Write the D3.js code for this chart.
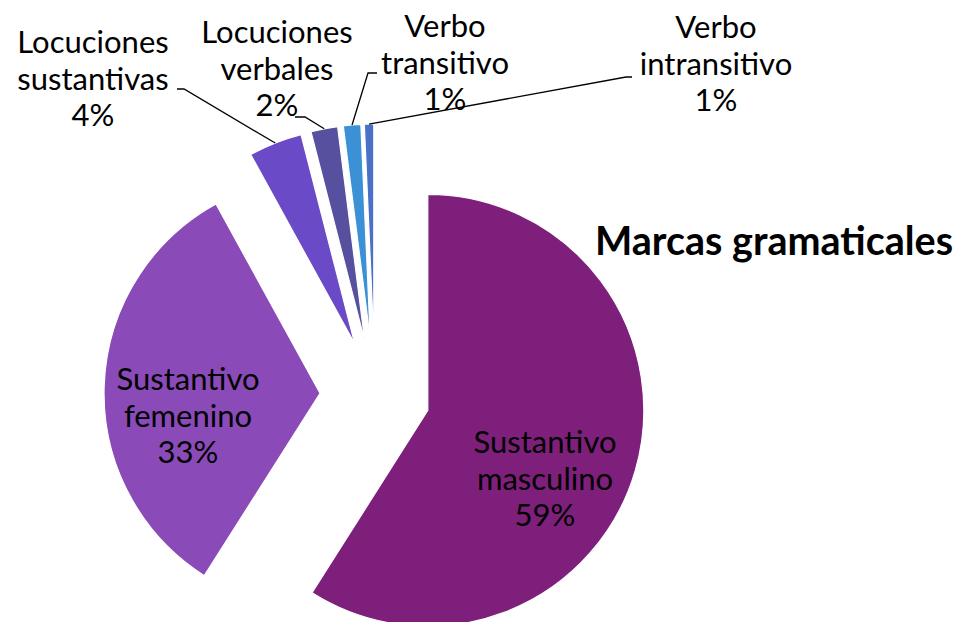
<!DOCTYPE html>
<html>
<head>
<meta charset="utf-8">
<script src="https://d3js.org/d3.v7.min.js"></script>
<style>
  body { margin: 0; background: #fff; }
  .lbl { font-family: Lato, sans-serif; font-size: 31px; fill: #000; }
  .title { font-family: Lato, sans-serif; font-size: 39.5px; font-weight: bold; fill: #000; }
  .leader { fill: none; stroke: #000; stroke-width: 1.3px; }
</style>
</head>
<body>
<svg id="chart" width="958" height="622"></svg>
<script>
var categories = ["Sustantivo masculino", "Sustantivo femenino", "Locuciones sustantivas",
                  "Locuciones verbales", "Verbo transitivo", "Verbo intransitivo"];
var values = [59, 33, 4, 2, 1.3, 0.7];
var colors = ["#7e1f7b", "#8a4bb9", "#6a4ac6", "#56509e", "#3b90d6", "#4a70c8"];
var title = "Marcas gramaticales";

// layout: how each label wraps, its centre x and first baseline
var labelLines = [["Sustantivo", "masculino"], ["Sustantivo", "femenino"], ["Locuciones", "sustantivas"],
                  ["Locuciones", "verbales"], ["Verbo", "transitivo"], ["Verbo", "intransitivo"]];
var labelPos = [[545, 453], [188, 390], [93, 53], [277, 43], [445, 37], [716, 38]];
// leader line start at the label: x, y, elbow x
var leaderEnds = [null, null, [177, 89, 184], [295, 117, 305], [377, 73, 368], [632, 77, 626]];

var cx = 375, cy = 395, radius = 216, explode = 55, lineH = 36.5;

var svg = d3.select("#chart");
var g = svg.append("g").attr("transform", "translate(" + cx + "," + cy + ")");

var pie = d3.pie().sort(null).value(function(d) { return d; });
var arcs = pie(values);
var arc = d3.arc().innerRadius(0).outerRadius(radius);

function offset(d, r) {
  var a = (d.startAngle + d.endAngle) / 2;
  return [Math.sin(a) * r, -Math.cos(a) * r];
}

g.selectAll("path.slice")
  .data(arcs)
  .enter()
  .append("path")
  .attr("class", "slice")
  .attr("d", arc)
  .attr("transform", function(d) { var o = offset(d, explode); return "translate(" + o[0] + "," + o[1] + ")"; })
  .style("fill", function(d, i) { return colors[i]; })
  .style("stroke", "#fff")
  .style("stroke-width", 1.2);

// leader lines
arcs.forEach(function(d, i) {
  if (!leaderEnds[i]) return;
  var o = offset(d, explode + radius);
  var e = leaderEnds[i];
  svg.append("path")
    .attr("class", "leader")
    .attr("d", "M" + e[0] + "," + e[1] + "L" + e[2] + "," + e[1] + "L" + (cx + o[0]) + "," + (cy + o[1]));
});

// labels
arcs.forEach(function(d, i) {
  var t = svg.append("text")
    .attr("class", "lbl")
    .attr("text-anchor", "middle")
    .attr("x", labelPos[i][0])
    .attr("y", labelPos[i][1]);
  var lines = labelLines[i].concat([Math.round(values[i]) + "%"]);
  lines.forEach(function(s, k) {
    t.append("tspan").attr("x", labelPos[i][0]).attr("dy", k === 0 ? 0 : lineH).text(s);
  });
});

svg.append("text")
  .attr("class", "title")
  .attr("x", 595)
  .attr("y", 255)
  .text(title);
</script>
</body>
</html>
